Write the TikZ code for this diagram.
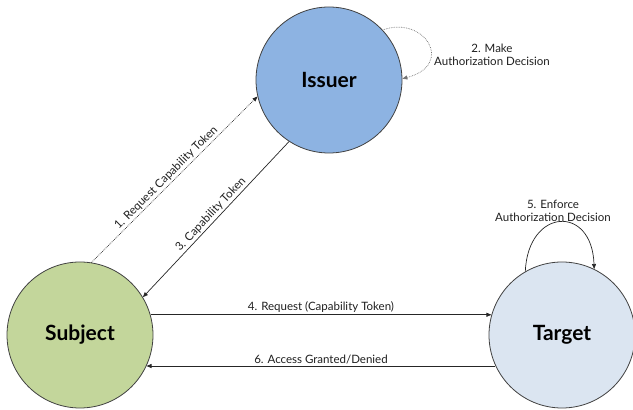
\documentclass[tikz,border=0pt]{standalone}
\usepackage{fontspec}
\setmainfont{Lato}
\usetikzlibrary{arrows.meta}
\definecolor{issuerfill}{HTML}{8DB3E2}
\definecolor{subjectfill}{HTML}{C3D69B}
\definecolor{targetfill}{HTML}{DBE5F1}
\definecolor{edgegray}{HTML}{404040}
\begin{document}
\begin{tikzpicture}[x=1pt,y=1pt,
  actor/.style={circle,draw=edgegray,line width=0.8pt,minimum size=146pt,inner sep=0pt,font=\fontsize{21}{24}\selectfont\bfseries},
  conn/.style={draw=black!85,line width=0.7pt,-{Triangle[length=5pt,width=4pt]}},
  lbl/.style={font=\fontsize{11.5}{13}\selectfont,text=black!88,inner sep=1.5pt},
  lbltwo/.style={lbl,align=center}]
\useasboundingbox (0,0) rectangle (633,410);
\node[actor,fill=issuerfill] (issuer) at (329,330) {Issuer};
\node[actor,fill=subjectfill] (subject) at (80,75) {Subject};
\node[actor,fill=targetfill] (target) at (562,75) {Target};
% 1
\draw[conn,densely dotted] (subject.81) -- node[lbl,sloped,above,pos=0.48] {1. Request Capability Token} (issuer.193);
% 3
\draw[conn] (issuer.237) -- node[lbl,sloped,above,pos=0.5] {3. Capability Token} (subject.31);
% 4
\draw[conn] (subject.16) -- node[lbl,above] {4. Request (Capability Token)} (target.164);
% 6
\draw[conn] (target.205) -- node[lbl,above] {6. Access Granted/Denied} (subject.335);
% 2 self loop
\draw[conn,densely dotted,draw=black!55] (issuer.43) .. controls (425,395) and (455,345) .. (issuer.1);
\node[lbltwo] (l2) at (492,355) {2. Make\\Authorization Decision};
% 5 self loop
\draw[conn] (target.120) .. controls (528,202) and (592,206) .. (target.64);
\node[lbltwo] (l5) at (553,199) {5. Enforce\\Authorization Decision};
\end{tikzpicture}
\end{document}
